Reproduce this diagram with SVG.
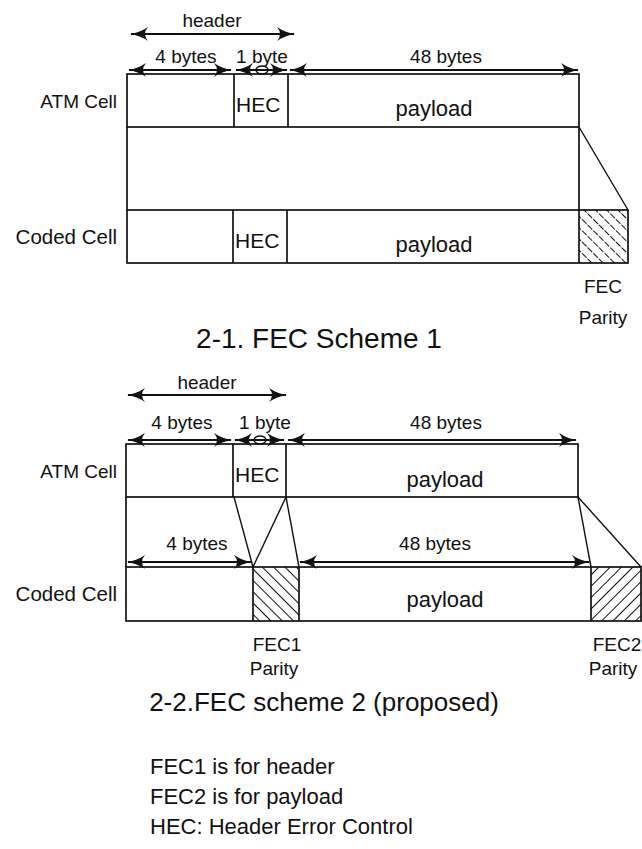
<svg xmlns="http://www.w3.org/2000/svg" width="642" height="849" viewBox="0 0 642 849">
<style>
text{font-family:"Liberation Sans",Arial,sans-serif;fill:#111}
.side{font-size:19px;text-anchor:end}
.side2{font-size:20.5px;text-anchor:end}
.hec{font-size:21px}
.pl{font-size:22px;text-anchor:middle}
.dim{font-size:19px;text-anchor:middle}
.title{font-size:28px;text-anchor:middle}
.title2{font-size:26px;text-anchor:middle}
.note{font-size:22px}
.box{fill:none;stroke:#111;stroke-width:1.7}
.ln{stroke:#111;stroke-width:1.7;fill:none}
.thin{stroke:#111;stroke-width:1.4;fill:none}
.arr{stroke:#111;stroke-width:1.9;fill:none;marker-start:url(#ah);marker-end:url(#ah)}
</style>
<defs>
<marker id="ah" viewBox="0 0 18 14" refX="17" refY="7" markerWidth="18" markerHeight="14" markerUnits="userSpaceOnUse" orient="auto-start-reverse">
<path d="M0,0 Q8,5.5 18,7 Q8,8.5 0,14 Q6,7 0,0 Z" fill="#111"/>
</marker>
<pattern id="hb" patternUnits="userSpaceOnUse" width="8" height="8" patternTransform="rotate(-45)">
<line x1="0" y1="0" x2="0" y2="8" stroke="#111" stroke-width="2" stroke-dasharray="5 1.5"/>
</pattern>
<pattern id="hb2" patternUnits="userSpaceOnUse" width="8" height="8" patternTransform="rotate(-45)">
<line x1="0" y1="0" x2="0" y2="8" stroke="#111" stroke-width="2"/>
</pattern>
<pattern id="hf" patternUnits="userSpaceOnUse" width="8" height="8" patternTransform="rotate(45)">
<line x1="0" y1="0" x2="0" y2="8" stroke="#111" stroke-width="2"/>
</pattern>
</defs>
<rect width="642" height="849" fill="#fff"/>

<!-- Scheme 1 -->
<g id="s1-atm-cell">
<rect class="box" x="127" y="74" width="452" height="53"/>
<line class="ln" x1="234" y1="74" x2="234" y2="127"/>
<line class="ln" x1="288" y1="74" x2="288" y2="127"/>
<text class="side" x="117" y="108">ATM Cell</text>
<text class="hec" x="236" y="112">HEC</text>
<text class="pl" x="434" y="116">payload</text>
</g>
<g id="s1-coded-cell">
<rect x="579" y="210" width="49" height="53" fill="url(#hb)"/>
<rect class="box" x="127" y="210" width="501" height="53"/>
<line class="ln" x1="233" y1="210" x2="233" y2="263"/>
<line class="ln" x1="287" y1="210" x2="287" y2="263"/>
<line class="ln" x1="579" y1="210" x2="579" y2="263"/>
<text class="side2" x="117" y="244">Coded Cell</text>
<text class="hec" x="235" y="248">HEC</text>
<text class="pl" x="434" y="252">payload</text>
<text class="dim" x="603" y="293">FEC</text>
<text class="dim" x="603" y="324">Parity</text>
</g>
<g id="s1-labels">
<text class="dim" x="212" y="27">header</text>
<text class="dim" x="186" y="63">4 bytes</text>
<text class="dim" x="262" y="63">1 byte</text>
<text class="dim" x="446" y="63">48 bytes</text>
<text class="title" x="319" y="348">2-1. FEC Scheme 1</text>
</g>

<!-- Scheme 2 -->
<g id="s2-atm-cell">
<rect class="box" x="126" y="444" width="452" height="53"/>
<line class="ln" x1="233" y1="444" x2="233" y2="497"/>
<line class="ln" x1="286" y1="444" x2="286" y2="497"/>
<text class="side" x="117" y="478">ATM Cell</text>
<text class="hec" x="235" y="482">HEC</text>
<text class="pl" x="445" y="487">payload</text>
</g>
<g id="s2-coded-cell">
<rect x="253" y="567" width="46" height="54" fill="url(#hb2)"/>
<rect x="591" y="567" width="50" height="54" fill="url(#hf)"/>
<rect class="box" x="126" y="567" width="515" height="54"/>
<line class="ln" x1="253" y1="567" x2="253" y2="621"/>
<line class="ln" x1="299" y1="567" x2="299" y2="621"/>
<line class="ln" x1="591" y1="567" x2="591" y2="621"/>
<text class="side2" x="117" y="601">Coded Cell</text>
<text class="pl" x="445" y="607">payload</text>
<text class="dim" x="277" y="651">FEC1</text>
<text class="dim" x="274" y="675">Parity</text>
<text class="dim" x="617" y="651">FEC2</text>
<text class="dim" x="613" y="675">Parity</text>
</g>
<g id="s2-labels">
<text class="dim" x="207" y="389">header</text>
<text class="dim" x="182" y="429">4 bytes</text>
<text class="dim" x="265" y="429">1 byte</text>
<text class="dim" x="446" y="429">48 bytes</text>
<text class="dim" x="197" y="550">4 bytes</text>
<text class="dim" x="435" y="550">48 bytes</text>
<text class="title2" x="324" y="711">2-2.FEC scheme 2 (proposed)</text>
</g>

<g id="legend">
<text class="note" x="150" y="774">FEC1 is for header</text>
<text class="note" x="150" y="804">FEC2 is for payload</text>
<text class="note" x="150" y="834">HEC: Header Error Control</text>
</g>

<g id="connectors">
<line class="arr" x1="131" y1="34" x2="294" y2="34"/>
<line class="arr" x1="129" y1="70" x2="231" y2="70"/>
<line class="arr" x1="236" y1="70" x2="287" y2="70"/>
<ellipse class="thin" cx="262" cy="70" rx="6" ry="4"/>
<line class="arr" x1="290" y1="70" x2="578" y2="70"/>
<line class="ln" x1="127" y1="127" x2="127" y2="210"/>
<line class="ln" x1="579" y1="127" x2="579" y2="210"/>
<line class="thin" x1="579" y1="127" x2="628" y2="210"/>
<line class="arr" x1="128" y1="395" x2="286" y2="395"/>
<line class="arr" x1="128" y1="440" x2="231" y2="440"/>
<line class="arr" x1="235" y1="440" x2="284" y2="440"/>
<ellipse class="thin" cx="260" cy="440" rx="6" ry="4"/>
<line class="arr" x1="288" y1="440" x2="576" y2="440"/>
<line class="arr" x1="128" y1="562" x2="251" y2="562"/>
<line class="arr" x1="300" y1="562" x2="589" y2="562"/>
<line class="ln" x1="126" y1="497" x2="126" y2="567"/>
<line class="thin" x1="234" y1="497" x2="253" y2="567"/>
<line class="thin" x1="286" y1="497" x2="253" y2="567"/>
<line class="thin" x1="286" y1="497" x2="299" y2="567"/>
<line class="thin" x1="578" y1="497" x2="591" y2="567"/>
<line class="thin" x1="578" y1="497" x2="641" y2="567"/>
</g>
</svg>
